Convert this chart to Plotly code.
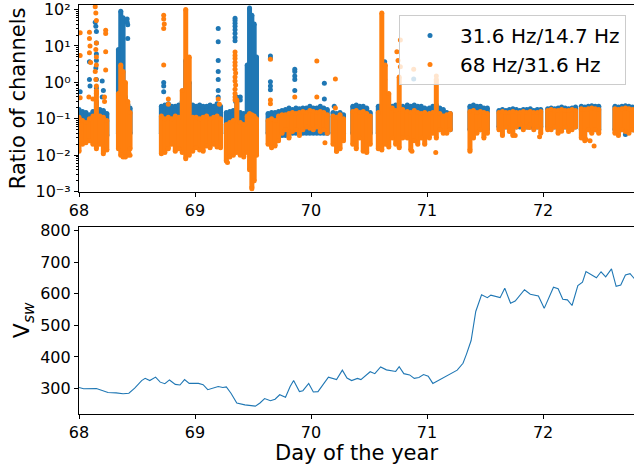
import plotly.graph_objects as go
from plotly.subplots import make_subplots

# ---------------- data: top panel (ratio of channels) ----------------
# dense bands: sample time, lower and upper edge of the point cloud
blue_t = [68.00, 68.03, 68.06, 68.09, 68.12, 68.15, 68.18, 68.21, 68.24,
          68.34, 68.36, 68.38, 68.40, 68.42, 68.44,
          68.71, 68.74, 68.77, 68.80, 68.83, 68.86, 68.89, 68.92, 68.95, 68.98,
          69.01, 69.04, 69.07, 69.10, 69.13, 69.16, 69.19, 69.22,
          69.27, 69.30, 69.33, 69.36, 69.39, 69.42,
          69.45, 69.47, 69.49, 69.51, 69.53,
          69.63, 69.66, 69.69, 69.72, 69.75, 69.78, 69.81, 69.84, 69.87, 69.90,
          69.93, 69.96, 69.99, 70.02, 70.05, 70.08, 70.11, 70.14,
          70.19, 70.22, 70.25, 70.28,
          70.36, 70.39, 70.42, 70.45, 70.48, 70.51,
          70.58, 70.61, 70.64, 70.67, 70.70, 70.73, 70.76, 70.79,
          70.83, 70.86, 70.89, 70.92, 70.95, 70.98,
          71.02, 71.05, 71.08, 71.11, 71.14, 71.17, 71.20,
          71.37, 71.40, 71.43, 71.46, 71.49, 71.52,
          71.62, 71.65, 71.68, 71.71, 71.74, 71.77, 71.80, 71.83, 71.86, 71.89, 71.92, 71.95, 71.98,
          72.04, 72.07, 72.10, 72.13, 72.16, 72.19, 72.22, 72.25, 72.28,
          72.33, 72.36, 72.39, 72.42, 72.45, 72.48,
          72.62, 72.65, 72.68, 72.71, 72.74, 72.77, 72.80]
blue_hi = [0.18, 0.16, 0.15, 0.13, 0.16, 0.30, 0.18, 0.17, 0.14,
           8, 90, 60, 0.4, 0.25, 0.2,
           0.22, 0.24, 0.26, 0.22, 0.22, 0.24, 0.3, 4, 1, 0.24,
           0.22, 0.24, 0.22, 0.22, 0.24, 0.22, 0.26, 0.22,
           0.15, 0.16, 0.17, 0.4, 0.15, 0.14,
           3, 110, 70, 40, 5,
           0.14, 0.15, 0.15, 0.16, 0.17, 0.18, 0.2, 0.18, 0.2, 0.19,
           0.2, 0.2, 0.22, 0.2, 0.2, 0.22, 0.2, 0.18,
           0.15, 0.14, 0.15, 0.13,
           0.22, 0.24, 0.22, 0.22, 0.2, 0.15,
           0.22, 0.24, 0.3, 0.22, 0.22, 0.24, 0.22, 0.22,
           0.24, 0.22, 0.24, 0.22, 0.22, 0.2,
           0.2, 0.22, 0.24, 0.2, 0.18, 0.15, 0.14,
           0.22, 0.24, 0.22, 0.22, 0.2, 0.2,
           0.17, 0.18, 0.17, 0.18, 0.19, 0.18, 0.17, 0.18, 0.18, 0.19, 0.17, 0.18, 0.18,
           0.19, 0.2, 0.19, 0.2, 0.21, 0.2, 0.19, 0.2, 0.21,
           0.22, 0.21, 0.22, 0.23, 0.22, 0.22,
           0.22, 0.21, 0.22, 0.23, 0.22, 0.21, 0.22]
blue_lo = [0.05, 0.05, 0.05, 0.05, 0.04, 0.04, 0.04, 0.035, 0.035,
           0.04, 0.04, 0.04, 0.04, 0.04, 0.04,
           0.04, 0.04, 0.04, 0.04, 0.04, 0.04, 0.04, 0.04, 0.04, 0.04,
           0.04, 0.04, 0.04, 0.04, 0.04, 0.04, 0.04, 0.04,
           0.04, 0.04, 0.04, 0.04, 0.04, 0.04,
           0.05, 0.05, 0.05, 0.05, 0.05,
           0.04, 0.04, 0.04, 0.04, 0.035, 0.035, 0.04, 0.04, 0.04, 0.04,
           0.04, 0.04, 0.04, 0.04, 0.04, 0.04, 0.04, 0.04,
           0.04, 0.04, 0.04, 0.04,
           0.04, 0.04, 0.04, 0.04, 0.04, 0.04,
           0.04, 0.04, 0.04, 0.04, 0.04, 0.04, 0.04, 0.04,
           0.04, 0.04, 0.04, 0.04, 0.04, 0.04,
           0.05, 0.05, 0.05, 0.05, 0.05, 0.05, 0.05,
           0.05, 0.05, 0.05, 0.05, 0.05, 0.05,
           0.06, 0.06, 0.06, 0.06, 0.06, 0.06, 0.06, 0.06, 0.06, 0.06, 0.06, 0.06, 0.06,
           0.06, 0.06, 0.06, 0.06, 0.06, 0.06, 0.06, 0.06, 0.06,
           0.05, 0.05, 0.05, 0.05, 0.05, 0.05,
           0.05, 0.05, 0.05, 0.05, 0.05, 0.05, 0.05]

orange_t = list(blue_t)
orange_hi = [0.11, 0.09, 0.08, 0.10, 0.12, 0.6, 0.12, 0.11, 0.09,
             0.5, 3, 2, 1, 0.3, 0.15,
             0.12, 0.10, 0.11, 0.10, 0.12, 0.11, 0.6, 100, 5, 0.11,
             0.11, 0.10, 0.11, 0.12, 0.10, 0.11, 0.12, 0.10,
             0.07, 0.08, 0.09, 0.33, 0.08, 0.07,
             0.12, 0.14, 0.13, 0.12, 0.1,
             0.09, 0.1, 0.09, 0.12, 0.13, 0.13, 0.14, 0.15, 0.14, 0.15,
             0.16, 0.15, 0.17, 0.16, 0.15, 0.16, 0.15, 0.13,
             0.12, 0.11, 0.13, 0.1,
             0.16, 0.17, 0.15, 0.16, 0.14, 0.12,
             0.15, 80, 3, 0.5, 0.2, 0.17, 1.4, 0.18,
             0.16, 0.15, 0.17, 0.15, 0.14, 0.15,
             0.14, 0.15, 1.2, 0.14, 0.12, 0.13, 0.14,
             0.16, 0.17, 0.15, 0.16, 0.15, 0.14,
             0.15, 0.16, 0.15, 0.15, 0.16, 0.15, 0.15, 0.16, 0.15, 0.16, 0.15, 0.15, 0.16,
             0.17, 0.18, 0.17, 0.17, 0.18, 0.17, 0.17, 0.18, 0.17,
             0.19, 0.18, 0.19, 0.2, 0.19, 0.18,
             0.19, 0.18, 0.19, 0.2, 0.19, 0.18, 0.19]
orange_lo = [0.013, 0.02, 0.022, 0.025, 0.02, 0.015, 0.02, 0.011, 0.014,
             0.015, 0.01, 0.009, 0.012, 0.01, 0.015,
             0.011, 0.012, 0.015, 0.02, 0.013, 0.015, 0.012, 0.008, 0.01, 0.013,
             0.016, 0.014, 0.013, 0.018, 0.016, 0.02, 0.017, 0.016,
             0.007, 0.009, 0.01, 0.012, 0.01, 0.009,
             0.012, 0.004, 0.0013, 0.002, 0.01,
             0.02, 0.016, 0.018, 0.025, 0.04, 0.05, 0.03, 0.045, 0.05, 0.035,
             0.05, 0.06, 0.055, 0.05, 0.06, 0.045, 0.05, 0.04,
             0.02, 0.013, 0.015, 0.025,
             0.02, 0.015, 0.03, 0.013, 0.012, 0.02,
             0.015, 0.014, 0.02, 0.017, 0.03, 0.02, 0.016, 0.03,
             0.03, 0.014, 0.025, 0.02, 0.03, 0.02,
             0.03, 0.04, 0.03, 0.05, 0.04, 0.04, 0.05,
             0.014, 0.03, 0.04, 0.05, 0.03, 0.04,
             0.05, 0.035, 0.06, 0.045, 0.035, 0.06, 0.07, 0.05, 0.06, 0.07, 0.05, 0.06, 0.04,
             0.05, 0.05, 0.06, 0.04, 0.05, 0.06, 0.045, 0.05, 0.06,
             0.03, 0.025, 0.05, 0.04, 0.05, 0.04,
             0.04, 0.035, 0.05, 0.045, 0.04, 0.05, 0.045]

# isolated points (spikes / outliers)
blue_pt_t = [68.01, 68.09, 68.09, 68.095, 68.14, 68.145, 68.15, 68.15, 68.15, 68.15, 68.145,
             68.15, 68.15, 68.20, 68.21, 68.20,
             68.415, 68.415, 68.42, 68.42,
             68.73, 68.73, 68.73, 68.94, 68.94,
             69.20, 69.20, 69.20, 69.20, 69.20, 69.20, 69.20,
             69.345, 69.345, 69.345, 69.345, 69.345, 69.345, 69.345, 69.345,
             69.35, 69.35, 69.39, 69.39,
             69.65, 69.65, 69.65, 69.65, 69.65,
             69.86, 69.86, 69.86, 69.86, 69.86,
             70.115, 70.115, 70.20,
             70.635, 70.635, 70.635, 70.635,
             70.885, 72.71]
blue_pt_v = [0.55, 3.7, 1.2, 0.8, 45, 35, 25, 12, 6, 4, 2.5,
             1.2, 0.7, 1.1, 0.6, 0.4,
             55, 45, 38, 16,
             1.0, 0.8, 0.55, 3, 2,
             30, 13, 4, 2, 1.2, 0.6, 0.4,
             58, 50, 42, 35, 28, 22, 17, 14,
             0.4, 0.3, 0.4, 0.33,
             5.3, 4.5, 1.05, 0.8, 0.63,
             2.3, 2.0, 1.5, 1.2, 0.6,
             0.95, 0.35, 0.22,
             3.7, 1.2, 0.6, 0.3,
             1.24, 0.037]

orange_pt_t = [68.01, 68.01, 68.01, 68.09, 68.09, 68.095, 68.09, 68.10, 68.085,
               68.14, 68.145, 68.15, 68.15, 68.145, 68.15, 68.15, 68.14, 68.145, 68.15, 68.15,
               68.23, 68.23, 68.23, 68.23, 68.22, 68.22, 68.12,
               68.40, 68.44, 68.43,
               68.73, 68.73, 68.735, 68.73, 68.73, 68.77, 68.77, 69.20, 69.21,
               69.345, 69.345, 69.345, 69.345, 69.345, 69.345, 69.35, 69.345, 69.345,
               69.35, 69.345, 69.345, 69.345, 69.345, 69.28,
               69.49,
               69.65, 69.65, 69.65, 69.86, 70.05, 70.05, 70.12,
               70.21, 70.21, 70.22,
               70.74, 70.77, 70.75, 70.77,
               70.885, 70.87,
               71.075, 71.08,
               71.37, 71.76, 71.97, 71.88, 72.16,
               72.37, 72.405, 72.44]
orange_pt_v = [23, 5.5, 0.38, 24, 16, 10, 6.5, 3.5, 0.4,
               120, 80, 50, 12, 8, 5, 3, 2, 1.2, 0.8, 0.5,
               27, 22, 6.9, 2.2, 0.4, 0.3, 0.35,
               0.009, 0.01, 0.012,
               70, 55, 40, 30, 3, 0.35, 0.25, 0.35, 0.25,
               6.8, 5.5, 4.5, 3.6, 2.9, 2.3, 1.8, 1.4, 1.1,
               0.85, 0.65, 0.5, 0.4, 0.33, 0.0063,
               0.0012,
               4.3, 0.33, 0.26, 0.4, 3.9, 0.4, 0.022,
               1.24, 0.2, 0.013,
               6.9, 14.6, 4, 2.7,
               2.3, 0.013,
               0.012, 1.5,
               0.013, 0.035, 0.032, 0.058, 0.046,
               0.027, 0.025, 0.018]

# ---------------- data: bottom panel (solar wind speed) ----------------
vsw_t = [68.00, 68.04, 68.15, 68.25, 68.32, 68.38, 68.43, 68.48, 68.54, 68.57, 68.61, 68.66,
         68.70, 68.74, 68.78, 68.83, 68.87, 68.91, 68.95, 69.03, 69.07, 69.11, 69.20, 69.24,
         69.27, 69.31, 69.36, 69.43, 69.52, 69.56, 69.60, 69.65, 69.69, 69.73, 69.78, 69.82,
         69.85, 69.90, 69.93, 69.98, 70.02, 70.06, 70.15, 70.22, 70.27, 70.31, 70.35, 70.40,
         70.43, 70.51, 70.55, 70.60, 70.65, 70.73, 70.76, 70.80, 70.85, 70.89, 70.93, 70.97,
         71.01, 71.05, 71.26, 71.31, 71.34, 71.38, 71.42, 71.47, 71.52, 71.55, 71.63, 71.67,
         71.72, 71.76, 71.84, 71.89, 71.96, 72.01, 72.09, 72.13, 72.17, 72.21, 72.25, 72.30,
         72.34, 72.37, 72.46, 72.50, 72.54, 72.59, 72.63, 72.67, 72.71, 72.75, 72.79]
vsw_v = [303, 299, 300, 287, 286, 283, 285, 301, 325, 332, 325, 336,
         320, 315, 327, 313, 311, 328, 316, 316, 312, 296, 306, 303,
         305, 285, 254, 248, 244, 254, 268, 261, 266, 280, 272, 306,
         325, 290, 293, 316, 289, 290, 336, 328, 358, 333, 325, 332,
         328, 353, 347, 368, 359, 354, 369, 347, 343, 332, 335, 344,
         339, 316, 358, 380, 409, 452, 544, 597, 588, 596, 588, 618,
         570, 577, 613, 599, 593, 554, 621, 616, 583, 581, 563, 626,
         637, 671, 651, 670, 654, 679, 624, 628, 660, 664, 647]

x_ticks = [68, 69, 70, 71, 72]
log_tick_vals = [1e-3, 1e-2, 1e-1, 1e0, 1e1, 1e2]
log_tick_text = ["10⁻³", "10⁻²", "10⁻¹", "10⁰", "10¹", "10²"]

BLUE = "#1f77b4"
ORANGE = "#ff7f0e"
FONT = "DejaVu Sans"


def band_xy(ts, los, his):
    xs, ys = [], []
    for t, lo, hi in zip(ts, los, his):
        xs += [t, t, None]
        ys += [lo, hi, None]
    return xs, ys


fig = make_subplots(rows=2, cols=1, vertical_spacing=0.0)

bx, by = band_xy(blue_t, blue_lo, blue_hi)
fig.add_trace(go.Scatter(x=bx, y=by, mode="lines+markers", connectgaps=False,
                         line=dict(color=BLUE, width=5),
                         marker=dict(color=BLUE, size=5),
                         legendgroup="b", showlegend=False, hoverinfo="skip"), row=1, col=1)
fig.add_trace(go.Scatter(x=blue_pt_t, y=blue_pt_v, mode="markers",
                         marker=dict(color=BLUE, size=5),
                         name="31.6 Hz/14.7 Hz", legendgroup="b"), row=1, col=1)
ox, oy = band_xy(orange_t, orange_lo, orange_hi)
fig.add_trace(go.Scatter(x=ox, y=oy, mode="lines+markers", connectgaps=False,
                         line=dict(color=ORANGE, width=5),
                         marker=dict(color=ORANGE, size=5),
                         legendgroup="o", showlegend=False, hoverinfo="skip"), row=1, col=1)
fig.add_trace(go.Scatter(x=orange_pt_t, y=orange_pt_v, mode="markers",
                         marker=dict(color=ORANGE, size=5),
                         name="68 Hz/31.6 Hz", legendgroup="o"), row=1, col=1)

fig.add_trace(go.Scatter(x=vsw_t, y=vsw_v, mode="lines",
                         line=dict(color=BLUE, width=1.1),
                         showlegend=False), row=2, col=1)

minor_vals = []
for e in range(-3, 3):
    for m in range(2, 10):
        minor_vals.append(m * 10 ** e)

axis_common = dict(showline=True, linecolor="black", linewidth=1.2, ticks="outside",
                   ticklen=4, tickwidth=1.1, tickcolor="black", showgrid=False,
                   zeroline=False, automargin=False, ticklabeloverflow="allow",
                   tickfont=dict(family=FONT, size=16, color="black"))

fig.update_xaxes(range=[68, 72.784], tickvals=x_ticks, mirror=True, domain=[0, 1], **axis_common)
fig.update_xaxes(title=dict(text="Day of the year", font=dict(family=FONT, size=21, color="black"),
                            standoff=2), row=2, col=1)

fig.update_yaxes(type="log", range=[-3, 2.125], tickvals=log_tick_vals, ticktext=log_tick_text,
                 domain=[0.5435, 1.0], mirror=False,
                 minor=dict(tickvals=minor_vals, ticks="outside", ticklen=2,
                            tickcolor="black", showgrid=False),
                 title=dict(text="Ratio of channels", font=dict(family=FONT, size=21, color="black"),
                            standoff=4),
                 row=1, col=1, **axis_common)
fig.update_yaxes(range=[219, 813], dtick=100, domain=[0.0, 0.458], mirror=False,
                 title=dict(text="V<sub><i>sw</i></sub>", font=dict(family=FONT, size=22, color="black"),
                            standoff=4),
                 row=2, col=1, **axis_common)

fig.update_layout(
    width=634, height=465,
    margin=dict(l=79, r=0, t=5, b=51, autoexpand=False),
    plot_bgcolor="white", paper_bgcolor="white",
    font=dict(family=FONT, color="black"),
    legend=dict(x=0.9856, y=0.9756, xanchor="right", yanchor="top",
                bgcolor="rgba(255,255,255,0.8)", bordercolor="#cccccc", borderwidth=1,
                font=dict(family=FONT, size=20, color="black"),
                itemwidth=50, tracegroupgap=0),
)

fig.write_html("out.html", config={"displayModeBar": False},
               post_script="document.body.style.margin='0px';")
